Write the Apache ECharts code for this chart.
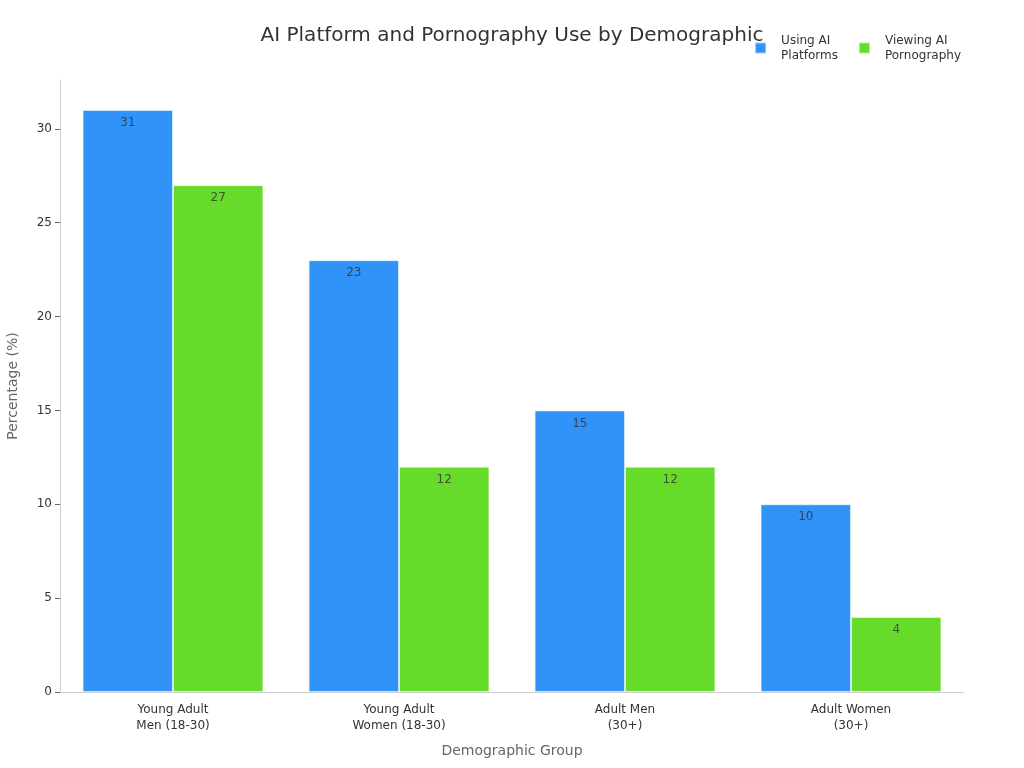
<!DOCTYPE html>
<html>
<head>
<meta charset="utf-8">
<script src="https://cdn.jsdelivr.net/npm/echarts@6/dist/echarts.min.js"></script>
<style>
  html, body { margin: 0; padding: 0; background: #fff; }
  #chart { width: 1024px; height: 768px; }
</style>
</head>
<body>
<div id="chart"></div>
<script>
var groups = ['Young Adult\nMen (18-30)', 'Young Adult\nWomen (18-30)', 'Adult Men\n(30+)', 'Adult Women\n(30+)']
var usingAI = [31, 23, 15, 10]
var viewingAI = [27, 12, 12, 4]
var yTicks = [0, 5, 10, 15, 20, 25, 30]

var myChart = echarts.init(document.getElementById('chart'))

var labelStyle = {
    show: true,
    position: 'insideTop',
    distance: 7,
    color: 'rgba(51,51,51,0.8)',
    fontSize: 12,
    fontFamily: 'DejaVu Sans'
}

myChart.setOption({
    textStyle: { fontFamily: 'DejaVu Sans' },
    title: {
        text: 'AI Platform and Pornography Use by Demographic',
        left: 'center',
        top: 21,
        textStyle: { fontSize: 20, fontWeight: 'normal', color: '#333' }
    },
    legend: {
        right: 58,
        top: 28,
        itemWidth: 11,
        itemHeight: 11,
        itemGap: 20,
        icon: 'rect',
        textStyle: { fontSize: 12, color: '#333', lineHeight: 15, padding: [0, 0, 0, 10] },
        data: ['Using AI\nPlatforms', 'Viewing AI\nPornography']
    },
    grid: {
        left: 60,
        right: 60,
        top: 80,
        bottom: 76,
        outerBoundsMode: 'none',
        containLabel: false
    },
    xAxis: {
        type: 'category',
        data: groups,
        name: 'Demographic Group',
        nameLocation: 'middle',
        nameGap: 52,
        nameTextStyle: { fontSize: 14, color: '#666' },
        axisLine: { lineStyle: { color: '#ccc' } },
        axisTick: { alignWithLabel: true, lineStyle: { color: '#666' } },
        axisLabel: { color: '#333', fontSize: 12, lineHeight: 16, margin: 10 }
    },
    yAxis: {
        type: 'value',
        min: 0,
        max: 32.6,
        name: 'Percentage (%)',
        nameLocation: 'middle',
        nameGap: 40,
        nameTextStyle: { fontSize: 14, color: '#666' },
        axisLine: { show: true, lineStyle: { color: '#ccc' } },
        axisTick: { show: true, customValues: yTicks, lineStyle: { color: '#666' } },
        axisLabel: { customValues: yTicks, color: '#333', fontSize: 12 },
        splitLine: { show: false }
    },
    series: [
        {
            name: 'Using AI\nPlatforms',
            type: 'bar',
            data: usingAI,
            barGap: '0%',
            barCategoryGap: '20%',
            itemStyle: { color: '#3192f7', borderColor: 'rgba(255,255,255,0.5)', borderWidth: 1 },
            label: labelStyle
        },
        {
            name: 'Viewing AI\nPornography',
            type: 'bar',
            data: viewingAI,
            barGap: '0%',
            barCategoryGap: '20%',
            itemStyle: { color: '#67db29', borderColor: 'rgba(255,255,255,0.5)', borderWidth: 1 },
            label: labelStyle
        }
    ]
})
</script>
</body>
</html>
